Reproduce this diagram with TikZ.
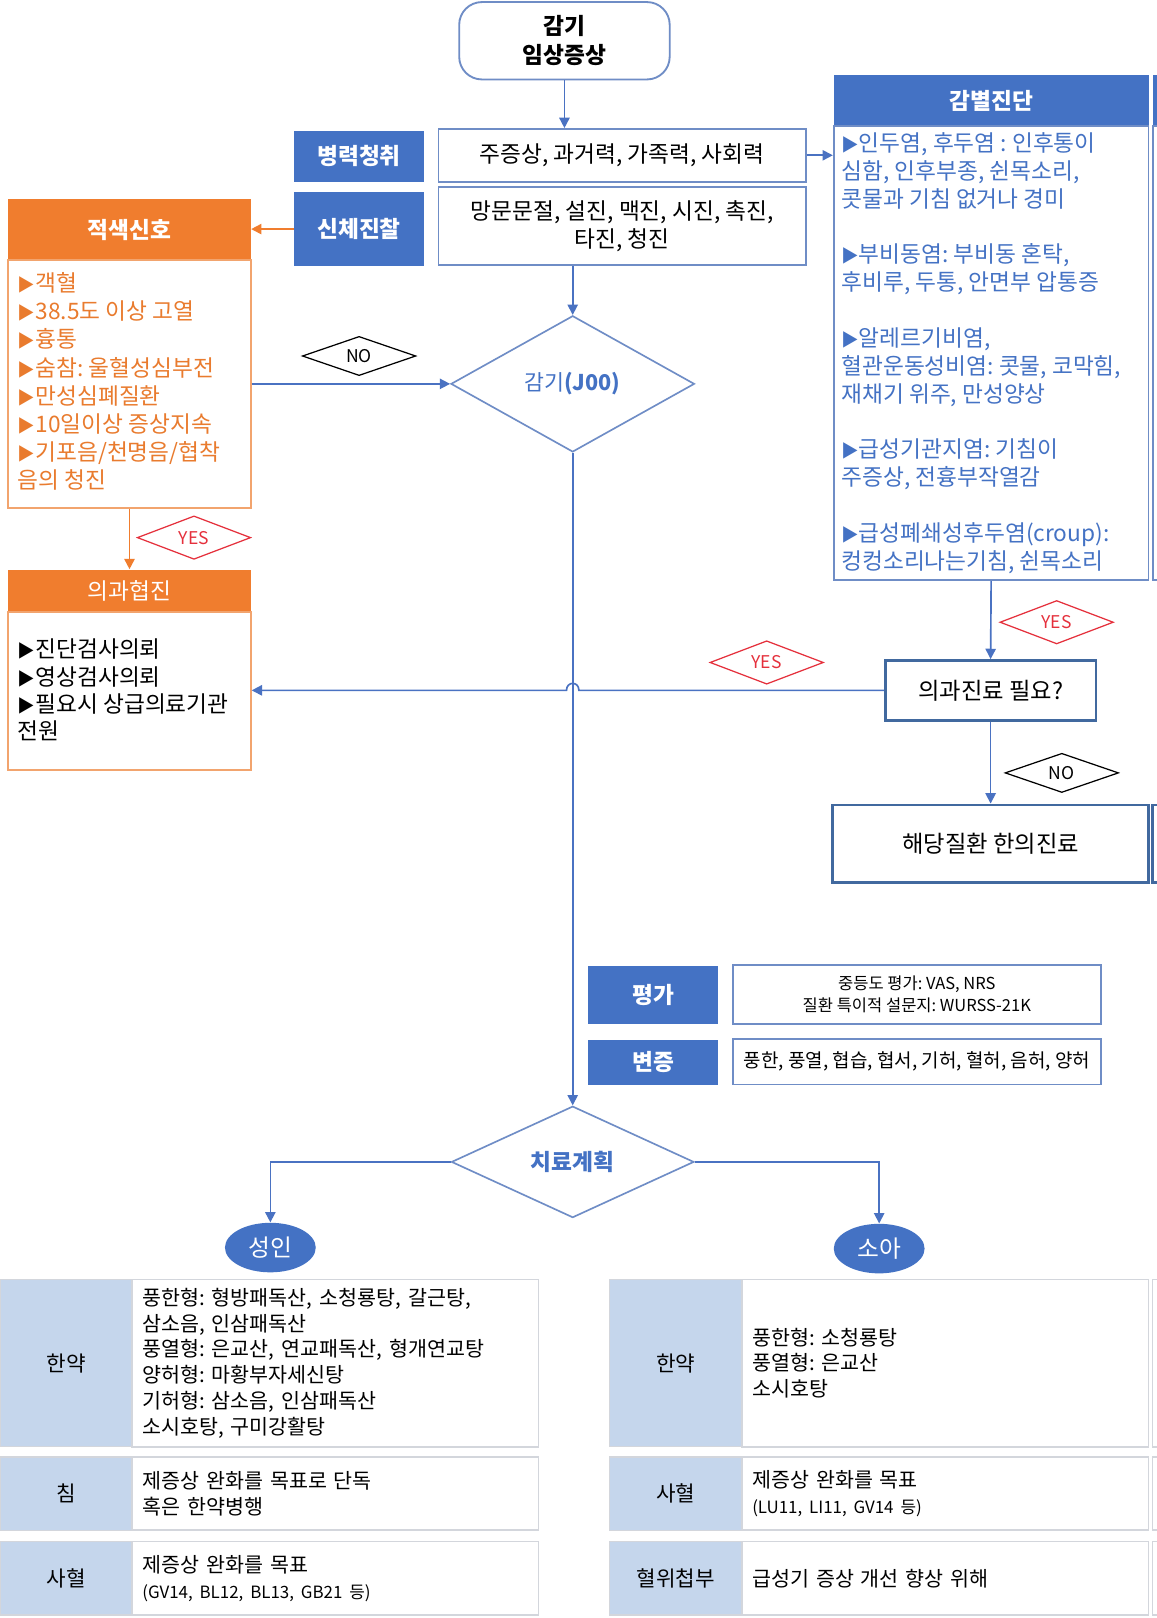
\documentclass[tikz,border=0pt]{standalone}
\usepackage{fontspec}
\usetikzlibrary{shapes.geometric,arrows.meta,calc}
\newfontfamily\kr{Noto Sans CJK KR}
\definecolor{hblue}{HTML}{4472C4}
\definecolor{bbord}{HTML}{6F8DC6}
\definecolor{dbord}{HTML}{41699F}
\definecolor{cblue}{HTML}{4A72C2}
\definecolor{orng}{HTML}{F07D2E}
\definecolor{otext}{HTML}{E97B2E}
\definecolor{obord}{HTML}{F2A46E}
\definecolor{rlab}{HTML}{E5303C}
\definecolor{lfill}{HTML}{C5D6EC}
\definecolor{gbord}{HTML}{D3D6DC}
\begin{document}
\frenchspacing
\begin{tikzpicture}[x=0.5pt,y=-0.5pt,font=\kr,
  wh/.style 2 args={minimum width=#1*0.5pt,minimum height=#2*0.5pt},
  fs/.style 2 args={font=\kr\fontsize{#1}{#2}\selectfont},
  fsb/.style 2 args={font=\kr\bfseries\fontsize{#1}{#2}\selectfont},
  wbox/.style={rectangle,draw=bbord,line width=0.9pt,fill=white,inner sep=0,align=center,fs={11}{13.5}},
  qbox/.style={rectangle,draw=dbord,line width=1.3pt,fill=white,inner sep=0,align=center,fs={11.3}{13.5}},
  bluebox/.style={rectangle,fill=hblue,text=white,inner sep=0,fsb={11}{12}},
  ohead/.style={rectangle,fill=orng,text=white,inner sep=0},
  obody/.style={rectangle,draw=obord,line width=0.9pt,fill=white,inner sep=0},
  conn/.style={draw=cblue,line width=0.8pt,-{Triangle[length=5pt,width=5pt]}},
  oconn/.style={draw=orng,line width=0.8pt,-{Triangle[length=5pt,width=5pt]}},
  lab/.style={diamond,draw=black,line width=0.6pt,fill=white,inner sep=0,wh={110}{38},fs={8.5}{9}},
  ylab/.style={lab,draw=rlab,text=rlab},
  bigdia/.style={diamond,draw=bbord,line width=0.8pt,fill=white,inner sep=0,text=hblue},
  oval/.style={ellipse,fill=hblue,text=white,inner sep=0,wh={88}{48},fs={11.5}{12}},
  lcell/.style={rectangle,fill=lfill,draw=gbord,line width=0.6pt,inner sep=0,wh={128}{#1},fs={10.3}{12}},
  ccell/.style={rectangle,draw=gbord,line width=0.8pt,fill=white,inner xsep=5pt,inner ysep=0,text width=187pt,align=left,minimum height=#1*0.5pt,fs={10}{12.5}},
  sliver/.style={draw=gbord,line width=0.8pt,fill=white}
]
\useasboundingbox (0,0) rectangle (1121,1568);
\fill[white] (0,0) rectangle (1121,1568);
\clip (0,0) rectangle (1121,1568);

% ---- top and history / exam
\node[wbox,rounded corners=11pt,wh={204}{75},fsb={11}{14}] (top) at (547,39.5) {감기\\임상증상};
\node[bluebox,wh={126}{49}] (hx) at (348,151.5) {병력청취};
\node[wbox,wh={356}{51}] (hxt) at (603,150.5) {주증상, 과거력, 가족력, 사회력};
\node[bluebox,wh={126}{72}] (pe) at (348,222) {신체진찰};
\node[wbox,wh={356}{76}] (pet) at (603,219) {망문문절, 설진, 맥진, 시진, 촉진,\\타진, 청진};

% ---- differential diagnosis
\node[bluebox,wh={305}{49}] (ddxh) at (960.5,97.5) {감별진단};
\node[wbox,wh={305}{440}] (ddxb) at (960.5,342) {};
\node[anchor=north west,align=left,inner sep=0,text=hblue,fs={11}{13.5}] (ddxt) at (815,128)
 {{\fontsize{8.5}{13.5}\selectfont ▶}인두염, 후두염 : 인후통이\\심함, 인후부종, 쉰목소리,\\콧물과 기침 없거나 경미\\[13.5pt]
  {\fontsize{8.5}{13.5}\selectfont ▶}부비동염: 부비동 혼탁,\\후비루, 두통, 안면부 압통증\\[13.5pt]
  {\fontsize{8.5}{13.5}\selectfont ▶}알레르기비염,\\혈관운동성비염: 콧물, 코막힘,\\재채기 위주, 만성양상\\[13.5pt]
  {\fontsize{8.5}{13.5}\selectfont ▶}급성기관지염: 기침이\\주증상, 전흉부작열감\\[13.5pt]
  {\fontsize{8.5}{13.5}\selectfont ▶}급성폐쇄성후두염(croup):\\컹컹소리나는기침, 쉰목소리};
\fill[hblue] (1117,73) rectangle (1140,122);
\draw[bbord,line width=0.9pt] (1117,122) rectangle (1140,562);

% ---- red flags
\node[ohead,wh={235}{59},fsb={11}{12}] (redh) at (125.5,222.5) {적색신호};
\node[obody,wh={235}{240}] (redb) at (125.5,372) {};
\node[anchor=north west,align=left,inner sep=0,text=otext,fs={11}{13.6}] (redt) at (17,264)
 {{\fontsize{8.5}{13.6}\selectfont ▶}객혈\\{\fontsize{8.5}{13.6}\selectfont ▶}38.5도 이상 고열\\{\fontsize{8.5}{13.6}\selectfont ▶}흉통\\{\fontsize{8.5}{13.6}\selectfont ▶}숨참: 울혈성심부전\\{\fontsize{8.5}{13.6}\selectfont ▶}만성심폐질환\\{\fontsize{8.5}{13.6}\selectfont ▶}10일이상 증상지속\\{\fontsize{8.5}{13.6}\selectfont ▶}기포음/천명음/협착\\음의 청진};

% ---- medical cooperation
\node[ohead,wh={235}{41},fs={11}{12}] (mch) at (125.5,572.5) {의과협진};
\node[obody,wh={235}{153}] (mcb) at (125.5,669.5) {};
\node[anchor=north west,align=left,inner sep=0,text=black,fs={11}{13.2}] (mct) at (17,619)
 {{\fontsize{8.5}{13.2}\selectfont ▶}진단검사의뢰\\{\fontsize{8.5}{13.2}\selectfont ▶}영상검사의뢰\\{\fontsize{8.5}{13.2}\selectfont ▶}필요시 상급의료기관\\전원};

% ---- cold diamond
\node[bigdia,wh={236}{132},fs={10.5}{12}] (j00) at (555,372) {감기\textbf{(J00)}};

% ---- medical need / KM treatment
\node[qbox,wh={204}{58}] (q) at (960,669) {의과진료 필요?};
\node[qbox,wh={306}{75}] (kt) at (960,817.5) {해당질환 한의진료};
\draw[dbord,line width=1.3pt,fill=white] (1117,780) rectangle (1140,855);

% ---- evaluation
\node[bluebox,wh={126}{56}] (ev) at (633,964) {평가};
\node[wbox,wh={357}{57},fs={8}{11}] (evt) at (888.5,963.5) {중등도 평가: VAS, NRS\\질환 특이적 설문지: WURSS-21K};
\node[bluebox,wh={126}{43}] (bz) at (633,1029.5) {변증};
\node[wbox,wh={357}{44},fs={9.2}{11}] (bzt) at (888.5,1029) {풍한, 풍열, 협습, 협서, 기허, 혈허, 음허, 양허};

% ---- treatment plan
\node[bigdia,wh={235}{108},fsb={11}{12}] (tx) at (555,1126) {치료계획};
\node[oval] (adult) at (262,1209) {성인};
\node[oval] (child) at (852,1210) {소아};

% ---- connectors
\coordinate (hopR) at ($(j00.south |- q.west)+(6,0)$);
\coordinate (hopL) at ($(j00.south |- q.west)+(-6,0)$);
\draw[conn] (top.south) -- (top.south |- hxt.north);
\draw[conn] (hxt.east) -- (hxt.east -| ddxb.west);
\draw[oconn] (pe.west) -- (pe.west -| redh.east);
\draw[conn] (j00.north |- pet.south) -- (j00.north);
\draw[conn] (redb.east) -- (j00.west);
\draw[oconn] (redb.south) -- (mch.north);
\draw[conn] (ddxb.south) -- (q.north);
\draw[conn] (q.west) -- (hopR) .. controls +(0,-9) and +(0,-9) .. (hopL) -- (q.west -| mcb.east);
\draw[conn] (q.south) -- (kt.north);
\draw[conn] (j00.south) -- (tx.north);
\draw[conn] (tx.west) -| (adult.north);
\draw[conn] (tx.east) -| (child.north);

% ---- YES / NO labels
\node[lab] (no1) at (348,345) {NO};
\node[ylab] (yes1) at (188,521) {YES};
\node[ylab] (yes2) at (1024,603) {YES};
\node[ylab] (yes3) at (743,642) {YES};
\node[lab] (no2) at (1029,749) {NO};

% ---- adult table
\node[lcell=162] (a1) at (64,1321) {한약};
\node[ccell=162] (a1c) at (325,1321) {풍한형: 형방패독산, 소청룡탕, 갈근탕,\\삼소음, 인삼패독산\\풍열형: 은교산, 연교패독산, 형개연교탕\\양허형: 마황부자세신탕\\기허형: 삼소음, 인삼패독산\\소시호탕, 구미강활탕};
\node[lcell=71] (a2) at (64,1447.5) {침};
\node[ccell=71] (a2c) at (325,1447.5) {제증상 완화를 목표로 단독\\혹은 한약병행};
\node[lcell=71] (a3) at (64,1529.5) {사혈};
\node[ccell=71] (a3c) at (325,1529.5) {제증상 완화를 목표\\{\fontsize{8.2}{12.5}\selectfont (GV14, BL12, BL13, GB21 등)}};

% ---- child table
\node[lcell=162] (c1) at (655,1321) {한약};
\node[ccell=162] (c1c) at (916,1321) {풍한형: 소청룡탕\\풍열형: 은교산\\소시호탕};
\node[lcell=71] (c2) at (655,1447.5) {사혈};
\node[ccell=71] (c2c) at (916,1447.5) {제증상 완화를 목표\\{\fontsize{8.2}{12.5}\selectfont (LU11, LI11, GV14 등)}};
\node[lcell=71] (c3) at (655,1529.5) {혈위첩부};
\node[ccell=71] (c3c) at (916,1529.5) {급성기 증상 개선 향상 위해};
\draw[sliver] (1117,1240) rectangle (1140,1402);
\draw[sliver] (1117,1412) rectangle (1140,1483);
\draw[sliver] (1117,1494) rectangle (1140,1565);
\end{tikzpicture}
\end{document}
